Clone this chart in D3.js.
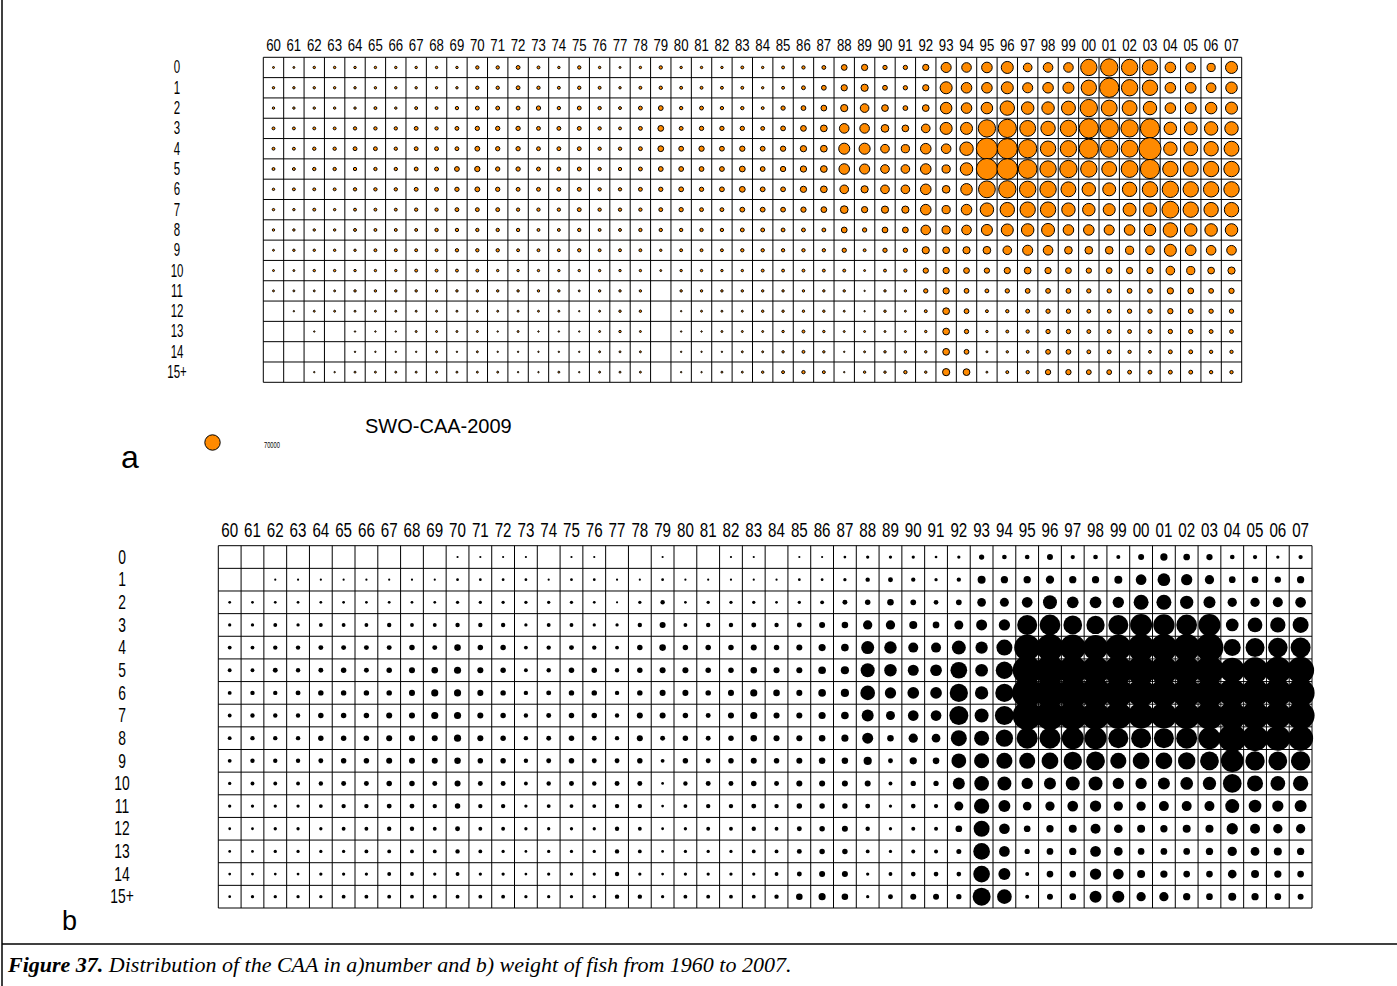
<!DOCTYPE html>
<html>
<head>
<meta charset="utf-8">
<script src="https://cdn.jsdelivr.net/npm/d3@7"></script>
<style>
  body { margin: 0; background: #fff; }
  svg { display: block; }
</style>
</head>
<body>
<svg id="fig" width="1397" height="986"></svg>
<script>
// Years (1960-2007) and ages of the swordfish catch-at-age table
const years = ["60","61","62","63","64","65","66","67","68","69",
               "70","71","72","73","74","75","76","77","78","79",
               "80","81","82","83","84","85","86","87","88","89",
               "90","91","92","93","94","95","96","97","98","99",
               "00","01","02","03","04","05","06","07"];
const ages = ["0","1","2","3","4","5","6","7","8","9","10","11","12","13","14","15+"];

// a) catch at age in number of fish (rows = age, columns = year)
const caaNumber = [
  [1100,1100,1700,1700,1700,1700,1700,1700,1700,1700, 3300,3300,4400,2500,1700,3300,1700,1100,1700,3300, 1700,1700,1700,2500,1700,2500,3300,4400,9800,11600, 5500,5500,11600,30100,27300,33100,42700,22100,27300,27300, 79000,88600,79000,70000,33100,27300,19800,42700],
  [1700,1700,1700,1700,1700,1700,1700,1700,1700,1700, 3300,3300,4400,3300,2500,3300,2500,1700,2500,3300, 2500,2500,2500,2500,1700,2500,4400,6800,11600,15400, 6800,5500,11600,42700,33100,33100,42700,30100,33100,36200, 70000,109400,79000,70000,33100,33100,27300,39400],
  [1700,1700,1700,1700,1700,2500,1700,2500,2500,3300, 4400,4400,4400,5500,3300,4400,3300,2500,4400,6800, 3300,4400,3300,3300,2500,5500,6800,9800,15400,22100, 13400,6800,13400,39400,33100,39400,61500,46200,46200,57500, 88600,74400,65700,53600,33100,36200,39400,42700],
  [2500,2500,2500,2500,3300,3300,3300,4400,3300,4400, 5500,5500,5500,4400,4400,4400,3300,2500,4400,9800, 4400,5500,5500,5500,4400,6800,9800,13400,27300,27300, 17500,13400,22100,42700,42700,88600,98700,74400,61500,79000, 109400,98700,88600,109400,46200,49800,53600,53600],
  [2500,2500,3300,3300,4400,4400,3300,4400,4400,4400, 6800,5500,5500,4400,4400,4400,3300,3300,4400,9800, 6800,8300,6800,8300,6800,8300,11600,13400,36200,36200, 22100,19800,33100,27300,53600,132300,120600,98700,70000,79000, 109400,88600,83700,144600,53600,57500,61500,65700],
  [2500,2500,3300,3300,3300,3300,3300,4400,4400,6800, 8300,5500,5500,4400,4400,4400,3300,3300,4400,6800, 6800,6800,6800,9800,6800,8300,11600,13400,33100,30100, 22100,22100,33100,19800,46200,132300,126400,104000,79000,88600, 79000,65700,83700,109400,70000,65700,70000,70000],
  [1700,2500,2500,2500,3300,3300,3300,4400,4400,5500, 6800,5500,4400,4400,4400,4400,3300,3300,4400,5500, 6800,5500,6800,9800,6800,6800,11600,13400,22100,15400, 22100,22100,33100,17500,39400,83700,88600,79000,79000,65700, 53600,49800,61500,70000,79000,70000,70000,70000],
  [1700,1700,2500,1700,2500,2500,2500,3300,3300,4400, 4400,4400,3300,3300,3300,4400,3300,3300,3300,4400, 5500,4400,4400,6800,6800,6800,8300,9800,17500,11600, 15400,15400,33100,19800,33100,53600,61500,70000,70000,53600, 46200,42700,49800,53600,83700,70000,61500,61500],
  [1700,1700,1700,1700,2500,2500,2500,2500,3300,3300, 3300,3300,3300,2500,2500,3300,2500,2500,3300,3300, 3300,3300,3300,4400,4400,4400,4400,4400,9800,5500, 9800,9800,27300,19800,27300,36200,42700,46200,49800,33100, 33100,30100,33100,39400,61500,46200,46200,46200],
  [1100,1700,1700,1700,1700,2500,2500,2500,2500,3300, 3300,3300,2500,2500,2500,3300,2500,2500,2500,1700, 2500,2500,2500,3300,3300,3300,3300,3300,5500,2500, 5500,5500,15400,13400,15400,17500,22100,30100,27300,17500, 17500,17500,19800,22100,42700,33100,27300,27300],
  [1100,1100,1700,1700,1700,1700,1700,2500,2500,2500, 2500,1700,1700,1700,1700,1700,1700,1700,1700,1100, 1700,1700,1700,1700,2500,2500,2500,2500,2500,1100, 2500,3300,8300,11600,9800,8300,11600,13400,11600,9800, 8300,9800,11600,11600,22100,19800,13400,15400],
  [1100,1100,1100,1100,1700,1700,1700,1700,1700,1700, 1700,1700,1700,1700,1700,1100,1700,1700,1700,0, 1700,1700,1700,1700,1700,1700,1700,1700,1700,600, 1700,1700,5500,11600,6800,4400,5500,6800,6800,6800, 5500,5500,6800,6800,11600,9800,6800,8300],
  [0,600,1100,1100,1100,1100,1100,1100,1100,1100, 1100,1100,1100,1100,1100,600,1100,1700,1700,0, 600,1100,1100,1100,1700,1700,1700,1700,1100,600, 1700,1100,2500,13400,6800,2500,3300,4400,5500,5500, 4400,4400,5500,5500,8300,6800,5500,5500],
  [0,0,600,0,600,600,600,1100,1100,1100, 1100,600,1100,600,600,600,1100,1700,1100,0, 600,600,1100,1100,1100,1700,2500,1700,1100,1100, 1100,1100,1700,13400,5500,1700,2500,3300,5500,5500, 4400,4400,4400,4400,5500,5500,4400,4400],
  [0,0,0,0,600,600,600,600,1100,600, 1100,600,600,600,600,600,1100,1100,1100,0, 600,600,600,1100,1100,1700,2500,1700,600,1100, 1700,1700,1700,13400,6800,1100,1700,2500,6800,6800, 4400,4400,3300,2500,4400,4400,3300,3300],
  [0,0,600,600,1100,1100,1100,1100,1100,1100, 1100,1100,600,600,1100,600,1100,1100,1100,0, 600,600,1100,1100,1700,2500,3300,2500,600,1700, 1700,3300,1700,15400,13400,1100,2500,3300,8300,8300, 6800,6800,4400,4400,4400,4400,3300,3300]
];

// b) catch at age in weight, tonnes (rows = age, columns = year)
const caaWeight = [
  [0,0,0,0,0,0,0,0,0,0, 24,24,24,24,0,24,24,0,0,24, 0,0,24,24,0,24,24,38,54,54, 54,36,54,140,110,110,180,92,110,80, 180,266,224,198,110,92,54,92],
  [0,0,24,24,24,24,24,24,24,24, 38,38,38,38,24,38,38,24,24,38, 24,24,24,24,24,38,38,54,96,122, 92,54,92,320,266,266,344,266,266,320, 572,806,638,432,224,224,198,266],
  [38,38,38,38,38,38,38,38,38,38, 54,54,54,54,54,54,38,24,54,96, 38,54,54,54,38,54,74,122,150,216, 162,110,162,378,405,572,980,684,684,638, 1125,1125,884,720,432,432,500,572],
  [54,54,74,54,74,74,74,96,74,74, 96,96,96,54,74,74,54,54,96,182, 74,96,96,122,96,122,182,216,434,434, 320,224,405,605,638,2000,2142,1748,1674,2000, 2420,2268,2142,2420,806,1080,1170,1280],
  [74,74,96,96,122,122,122,122,150,122, 216,150,150,74,96,122,96,74,150,216, 150,150,150,182,150,182,254,294,845,781, 500,500,980,756,1280,3380,3645,3380,3125,3380, 3645,3645,3645,3920,1445,1805,1901,2000],
  [74,74,122,96,122,150,122,150,182,216, 254,182,150,74,96,150,150,96,150,182, 182,150,150,216,182,182,294,338,980,781, 605,684,1394,806,1496,4205,4500,4205,3920,4205, 4205,3920,3920,4205,3125,3380,3645,3645],
  [74,96,96,122,150,150,150,150,182,254, 254,182,150,96,122,150,150,96,150,182, 182,150,182,254,216,182,294,338,1080,638, 684,684,1674,884,1674,4500,4500,4500,4500,4205, 3920,3920,4205,4205,3920,3920,3920,3920],
  [74,96,96,96,150,150,150,182,182,254, 254,182,150,96,122,150,150,96,182,182, 150,122,182,254,182,182,254,294,720,405, 572,572,1805,980,1805,4205,4205,4205,3920,3645, 3380,3380,3645,3920,3920,3920,3645,3920],
  [74,96,96,96,150,150,150,182,182,182, 254,182,150,96,122,150,122,96,182,122, 150,122,150,216,182,182,216,254,605,216, 432,378,1280,1125,1496,2205,2205,2420,2420,2000, 2000,2000,2205,2420,3920,3380,3125,3125],
  [74,96,96,96,122,150,150,182,182,182, 216,150,150,96,122,150,122,122,150,74, 150,122,150,182,150,182,216,216,338,122, 266,224,1080,1125,1280,1280,1394,1674,1748,1280, 1394,1394,1496,1748,2576,1862,1748,1862],
  [54,74,74,74,96,122,122,150,150,122, 182,122,122,74,96,122,96,122,122,38, 96,122,122,150,122,182,182,182,182,74, 140,140,720,1080,980,638,720,980,980,638, 638,720,806,884,1748,1280,1080,1170],
  [54,54,54,54,74,96,96,122,122,96, 150,96,96,54,74,74,74,96,96,38, 74,96,96,122,96,150,150,150,122,54, 110,92,405,1170,720,378,432,572,638,432, 432,500,500,500,980,806,638,720],
  [38,38,54,54,54,74,74,96,96,74, 122,74,74,54,54,54,54,96,74,38, 54,74,74,96,74,122,150,182,96,54, 80,80,224,1280,572,224,266,320,500,378, 320,266,320,320,638,500,432,432],
  [38,38,54,54,54,54,74,74,74,74, 96,74,54,38,54,54,54,96,74,38, 54,54,54,74,74,122,150,150,74,54, 80,80,125,1394,572,140,224,266,572,378, 224,224,224,266,432,378,320,266],
  [38,38,38,38,54,54,54,74,74,54, 74,54,54,38,54,54,54,96,54,38, 54,54,54,54,74,122,182,182,54,74, 110,110,110,1394,720,80,224,224,638,572, 320,266,224,224,378,320,266,224],
  [38,54,54,54,54,74,74,74,74,74, 74,74,74,54,54,54,54,96,96,54, 74,74,74,74,96,216,254,216,54,122, 180,180,140,1620,1080,80,180,224,720,720, 432,432,266,224,320,266,224,180]
];

// reference bubble shown beside panel a
const legendValue = 70000;
const legendLabel = "70000";
const figureTitle = "SWO-CAA-2009";

const svg = d3.select("#fig");
const sansFont = "'Liberation Sans', Arial, sans-serif";

// page frame and caption rule
svg.append("line").attr("x1", 2).attr("x2", 2).attr("y1", 0).attr("y2", 986)
  .attr("stroke", "#000").attr("stroke-width", 1.5);
svg.append("line").attr("x1", 2).attr("x2", 1397).attr("y1", 944).attr("y2", 944)
  .attr("stroke", "#000").attr("stroke-width", 1.5);

const panels = [
  { data: caaNumber, x0: 263.3, x1: 1241.7, y0: 57.3, y1: 382.3,
    vmax: 70000, rmax: 7.7, fill: "#ff8a00", stroke: "#000", sw: 1,
    headSize: 16.5, headScale: 0.8, headPad: 6.5,
    rowSize: 18.5, rowScale: 0.62, rowX: 177 },
  { data: caaWeight, x0: 218.3, x1: 1312, y0: 545.7, y1: 908,
    vmax: 5120, rmax: 16, fill: "#000", stroke: "none", sw: 0,
    headSize: 20.5, headScale: 0.74, headPad: 8.5,
    rowSize: 21, rowScale: 0.66, rowX: 122 }
];

const scales = panels.map(p => {
  const g = svg.append("g");
  const x = d3.scaleBand().domain(years).range([p.x0, p.x1]);
  const y = d3.scaleBand().domain(ages).range([p.y0, p.y1]);
  const r = d3.scaleSqrt().domain([0, p.vmax]).range([0, p.rmax]);

  // cell grid
  const grid = g.append("g").attr("stroke", "#000").attr("stroke-width", 1);
  grid.selectAll("line.v").data(d3.range(years.length + 1)).join("line")
    .attr("class", "v")
    .attr("x1", i => p.x0 + i * x.step()).attr("x2", i => p.x0 + i * x.step())
    .attr("y1", p.y0).attr("y2", p.y1);
  grid.selectAll("line.h").data(d3.range(ages.length + 1)).join("line")
    .attr("class", "h")
    .attr("y1", i => p.y0 + i * y.step()).attr("y2", i => p.y0 + i * y.step())
    .attr("x1", p.x0).attr("x2", p.x1);

  // bubbles
  const cells = ages.flatMap((a, i) => years.map((yr, j) => ({ age: a, year: yr, v: p.data[i][j] })))
    .filter(d => d.v > 0);
  g.append("g").selectAll("circle").data(cells).join("circle")
    .attr("cx", d => x(d.year) + x.bandwidth() / 2)
    .attr("cy", d => y(d.age) + y.bandwidth() / 2)
    .attr("r", d => r(d.v))
    .attr("fill", p.fill)
    .attr("stroke", p.stroke)
    .attr("stroke-width", p.sw);

  // year labels across the top
  const top = g.append("g").attr("transform", `translate(0,${p.y0})`)
    .call(d3.axisTop(x).tickSize(0).tickPadding(p.headPad));
  top.select(".domain").remove();
  top.attr("font-family", null).attr("font-size", null);
  top.selectAll("text")
    .attr("font-family", sansFont).attr("font-size", p.headSize).attr("fill", "#000")
    .attr("transform", `scale(${p.headScale},1)`);

  // age labels on the left
  const left = g.append("g").attr("transform", `translate(${p.rowX},0)`)
    .call(d3.axisLeft(y).tickSize(0).tickPadding(0));
  left.select(".domain").remove();
  left.attr("font-family", null).attr("font-size", null);
  left.selectAll("text")
    .attr("x", 0).attr("text-anchor", "middle")
    .attr("font-family", sansFont).attr("font-size", p.rowSize).attr("fill", "#000")
    .attr("transform", `scale(${p.rowScale},1)`);

  return { x, y, r };
});

// legend bubble for panel a
svg.append("circle")
  .attr("cx", 212.5).attr("cy", 442.5)
  .attr("r", scales[0].r(legendValue))
  .attr("fill", "#ff8a00").attr("stroke", "#000").attr("stroke-width", 1);
svg.append("text")
  .attr("transform", "translate(264,448) scale(0.6,1)")
  .attr("font-family", sansFont).attr("font-size", 9.5)
  .text(legendLabel);

svg.append("text")
  .attr("x", 365).attr("y", 433)
  .attr("font-family", sansFont).attr("font-size", 20)
  .text(figureTitle);

// panel letters
svg.append("text").attr("x", 121).attr("y", 468)
  .attr("font-family", sansFont).attr("font-size", 32).text("a");
svg.append("text").attr("x", 62).attr("y", 930)
  .attr("font-family", sansFont).attr("font-size", 27).text("b");

// caption
const cap = svg.append("text").attr("x", 8).attr("y", 972)
  .attr("font-family", "'Liberation Serif', 'Times New Roman', serif")
  .attr("font-size", 22).attr("font-style", "italic");
cap.append("tspan").attr("font-weight", "bold").text("Figure 37.");
cap.append("tspan").text(" Distribution of the CAA in a)number and b) weight of fish from 1960 to 2007.");
</script>
</body>
</html>
